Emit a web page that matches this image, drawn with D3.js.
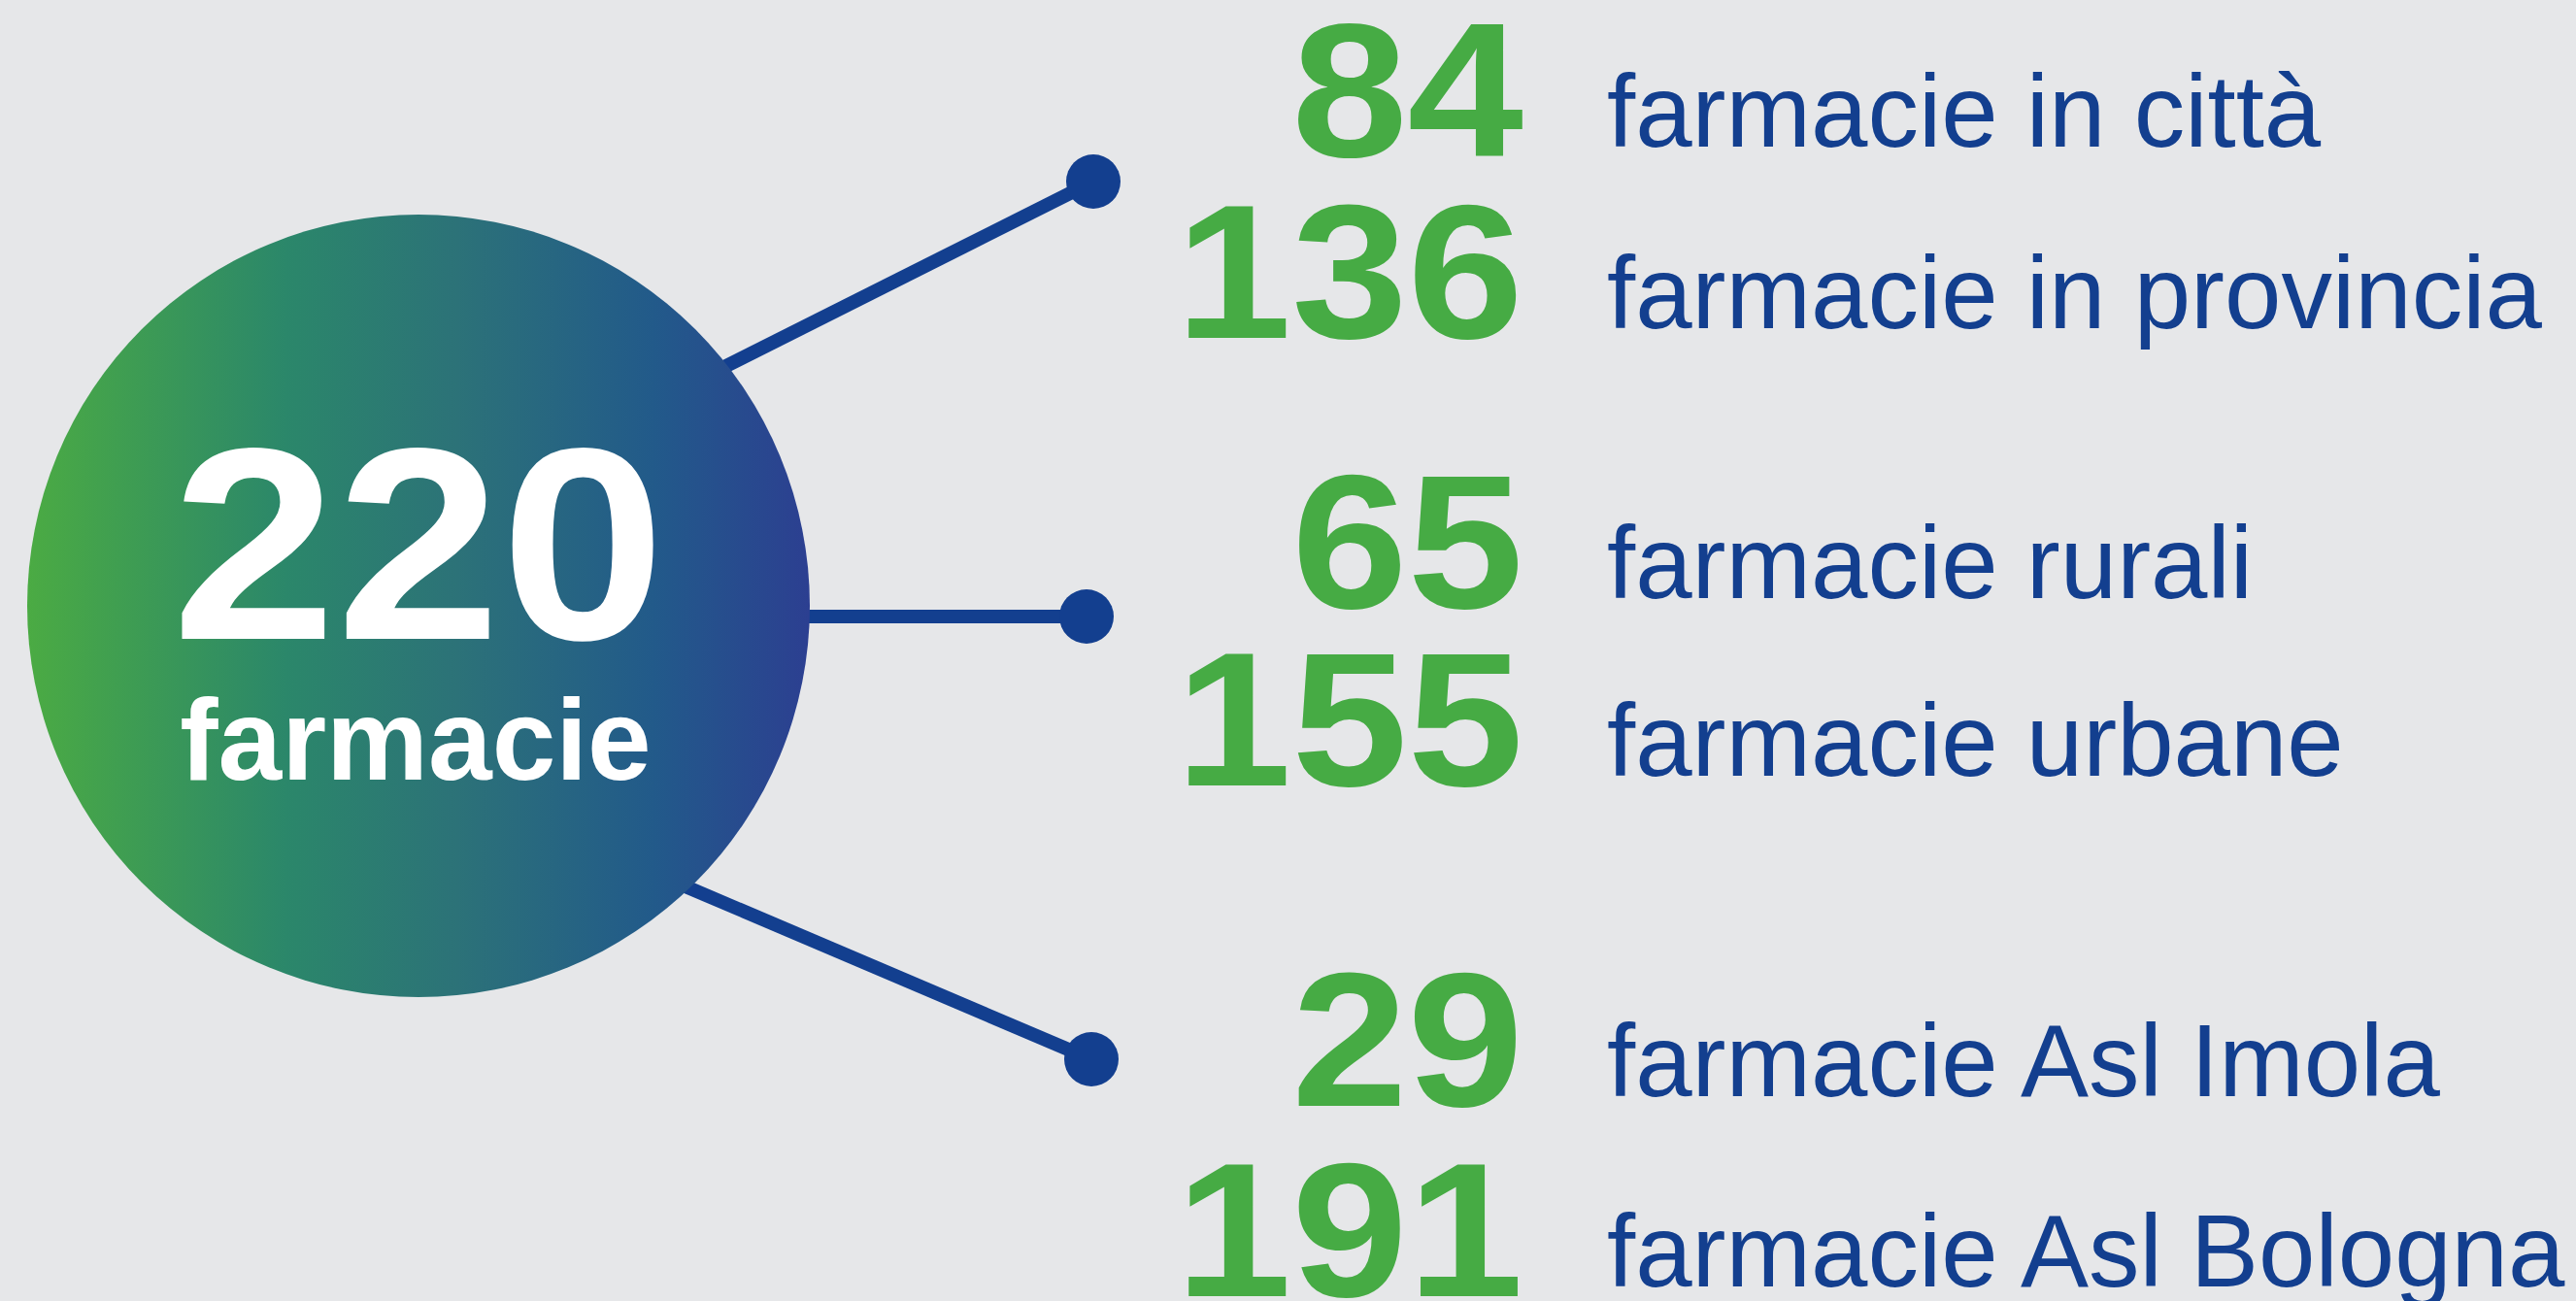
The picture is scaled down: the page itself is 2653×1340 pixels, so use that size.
<!DOCTYPE html>
<html>
<head>
<meta charset="utf-8">
<script src="https://cdn.jsdelivr.net/npm/d3@7"></script>
<style>
  html, body { margin: 0; padding: 0; background: #e6e7e9; }
  svg { display: block; }
</style>
</head>
<body>
<script>
// totals and breakdowns
const total = 220;
const totalLabel = "farmacie";
const counts = [84, 136, 65, 155, 29, 191];
const labels = [
  "farmacie in città", "farmacie in provincia",
  "farmacie rurali", "farmacie urbane",
  "farmacie Asl Imola", "farmacie Asl Bologna"
];
const groupOf = [0, 0, 1, 1, 2, 2];
const groups = [0, 1, 2];

const W = 2653, H = 1340;
const green = "#46ab44", blue = "#133f8f";

const svg = d3.select("body").append("svg")
    .attr("width", W)
    .attr("height", H);

svg.append("rect")
    .attr("width", W)
    .attr("height", H)
    .attr("fill", "#e6e7e9");

// gradient for the big circle
const grad = svg.append("defs").append("linearGradient")
    .attr("id", "bubble")
    .attr("x1", "0%").attr("x2", "100%")
    .attr("y1", "0%").attr("y2", "0%");
[[0, "#4bab43"], [0.33, "#2b876a"], [0.55, "#2c7278"], [0.8, "#225a8a"], [1, "#2c3f91"]]
    .forEach(([o, c]) => grad.append("stop").attr("offset", o).attr("stop-color", c));

// scales: baseline of each row, dot position of each group
const rowY = d3.scaleOrdinal()
    .domain(labels)
    .range([151, 338, 616, 799, 1129, 1325]);
const dotY = d3.scaleOrdinal()
    .domain(groups)
    .range([187, 635, 1091]);
const dotX = d3.scaleOrdinal()
    .domain(groups)
    .range([1126, 1119, 1124]);
// where each connector leaves the circle (hidden behind it)
const startPt = d3.scaleOrdinal()
    .domain(groups)
    .range([[700, 401], [800, 635], [680, 902]]);

const cx = 431, cy = 624, r = 403;

// connectors
svg.append("g").selectAll("line")
    .data(groups)
    .join("line")
    .attr("x1", g => startPt(g)[0])
    .attr("y1", g => startPt(g)[1])
    .attr("x2", g => dotX(g))
    .attr("y2", g => dotY(g))
    .attr("stroke", blue)
    .attr("stroke-width", 14);

svg.append("g").selectAll("circle")
    .data(groups)
    .join("circle")
    .attr("cx", g => dotX(g))
    .attr("cy", g => dotY(g))
    .attr("r", 28)
    .attr("fill", blue);

// big circle
svg.append("circle")
    .attr("cx", cx)
    .attr("cy", cy)
    .attr("r", r)
    .attr("fill", "url(#bubble)");

svg.append("text")
    .attr("transform", `translate(${cx},658) scale(1.08,1)`)
    .attr("text-anchor", "middle")
    .attr("font-family", "'Liberation Sans', Arial, sans-serif")
    .attr("font-weight", "bold")
    .attr("font-size", 282)
    .attr("fill", "#fff")
    .text(total);

svg.append("text")
    .attr("x", 428)
    .attr("y", 803)
    .attr("text-anchor", "middle")
    .attr("font-family", "'Liberation Sans', Arial, sans-serif")
    .attr("font-weight", "bold")
    .attr("font-size", 118)
    .attr("fill", "#fff")
    .text(totalLabel);

// numbers and labels on the right
const rows = counts.map((v, i) => ({ v, label: labels[i], g: groupOf[i] }));

svg.append("g").selectAll("text")
    .data(rows)
    .join("text")
    .attr("transform", d => `translate(1569,${rowY(d.label) + 10}) scale(1.09,1)`)
    .attr("text-anchor", "end")
    .attr("font-family", "'Liberation Sans', Arial, sans-serif")
    .attr("font-weight", "bold")
    .attr("font-size", 197)
    .attr("fill", green)
    .text(d => d.v);

svg.append("g").selectAll("text")
    .data(rows)
    .join("text")
    .attr("x", 1655)
    .attr("y", d => rowY(d.label))
    .attr("font-family", "'Liberation Sans', Arial, sans-serif")
    .attr("font-size", 105)
    .attr("fill", blue)
    .text(d => d.label);
</script>
</body>
</html>
